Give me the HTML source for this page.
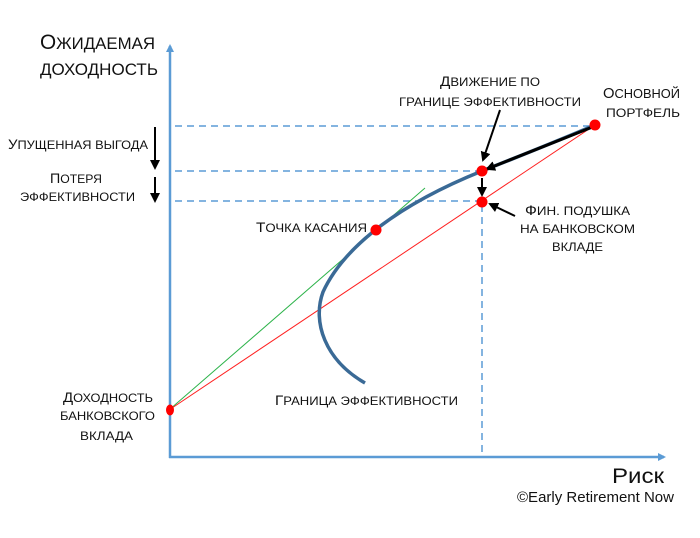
<!DOCTYPE html>
<html><head><meta charset="utf-8"><style>
html,body{margin:0;padding:0;background:#fff;}
svg text{font-family:"Liberation Sans","DejaVu Sans",sans-serif;fill:#111;}
.u{text-transform:uppercase;}
</style></head><body>
<svg width="700" height="533" viewBox="0 0 700 533" xmlns="http://www.w3.org/2000/svg">
<defs>
<marker id="ab" markerWidth="8" markerHeight="8" refX="6" refY="4" orient="auto" markerUnits="userSpaceOnUse"><path d="M0,0 L8,4 L0,8 Z" fill="#5b9bd5"/></marker>
<marker id="ak" markerWidth="10" markerHeight="10" refX="8" refY="5" orient="auto" markerUnits="userSpaceOnUse"><path d="M0,0 L10,5 L0,10 Z" fill="#000"/></marker>
</defs>
<line x1="170" y1="458" x2="170" y2="46" stroke="#5b9bd5" stroke-width="2.5" marker-end="url(#ab)"/>
<line x1="169" y1="457" x2="664" y2="457" stroke="#5b9bd5" stroke-width="2.5" marker-end="url(#ab)"/>
<g stroke="#5b9bd5" stroke-width="1.5" stroke-dasharray="7,5">
<line x1="175" y1="126" x2="595" y2="126"/>
<line x1="175" y1="171" x2="482" y2="171"/>
<line x1="175" y1="201" x2="482" y2="201"/>
<line x1="482" y1="205" x2="482" y2="456"/>
</g>
<line x1="169" y1="410" x2="425" y2="188" stroke="#2db34a" stroke-width="1"/>
<line x1="169" y1="410" x2="595" y2="125" stroke="#ff2020" stroke-width="1"/>
<path d="M365,383 C325,360 312,322 323,292 C340,255 385,210 482,171 C520,156 560,140 595,125" fill="none" stroke="#3a6a96" stroke-width="3.5"/>
<line x1="595" y1="126" x2="487" y2="169" stroke="#000" stroke-width="3" marker-end="url(#ak)"/>
<line x1="500" y1="110" x2="483" y2="160" stroke="#000" stroke-width="2" marker-end="url(#ak)"/>
<line x1="482" y1="178" x2="482" y2="195" stroke="#000" stroke-width="2" marker-end="url(#ak)"/>
<line x1="515" y1="216" x2="490" y2="204" stroke="#000" stroke-width="2" marker-end="url(#ak)"/>
<line x1="155" y1="127" x2="155" y2="168" stroke="#000" stroke-width="2" marker-end="url(#ak)"/>
<line x1="155" y1="177" x2="155" y2="201" stroke="#000" stroke-width="2" marker-end="url(#ak)"/>
<g fill="#ff0000">
<circle cx="595" cy="125" r="5.5"/>
<circle cx="482" cy="171" r="5.5"/>
<circle cx="482" cy="202" r="5.5"/>
<circle cx="376" cy="230" r="5.5"/>
<ellipse cx="170" cy="410" rx="4" ry="5.5"/>
</g>
<g class="u">
<text x="40" y="49" font-size="17" textLength="115" lengthAdjust="spacingAndGlyphs"><tspan font-size="21">О</tspan>жидаемая</text>
<text x="40" y="75" font-size="17" textLength="118" lengthAdjust="spacingAndGlyphs">доходность</text>
<text x="8" y="149" font-size="12" textLength="140" lengthAdjust="spacingAndGlyphs"><tspan font-size="14">У</tspan>пущенная выгода</text>
<text x="50" y="183" font-size="12" textLength="52" lengthAdjust="spacingAndGlyphs"><tspan font-size="14">П</tspan>отеря</text>
<text x="20" y="201" font-size="12" textLength="115" lengthAdjust="spacingAndGlyphs">эффективности</text>
<text x="256" y="232" font-size="12" textLength="111" lengthAdjust="spacingAndGlyphs"><tspan font-size="14">Т</tspan>очка касания</text>
<text x="440" y="86" font-size="12" textLength="100" lengthAdjust="spacingAndGlyphs"><tspan font-size="14">Д</tspan>вижение по</text>
<text x="399" y="106" font-size="12" textLength="182" lengthAdjust="spacingAndGlyphs">границе эффективности</text>
<text x="603" y="98" font-size="13" textLength="77" lengthAdjust="spacingAndGlyphs"><tspan font-size="15">О</tspan>сновной</text>
<text x="606" y="117" font-size="12" textLength="74" lengthAdjust="spacingAndGlyphs">портфель</text>
<text x="525" y="215" font-size="12" textLength="105" lengthAdjust="spacingAndGlyphs"><tspan font-size="14">Ф</tspan>ин. подушка</text>
<text x="520" y="233" font-size="12" textLength="115" lengthAdjust="spacingAndGlyphs">на банковском</text>
<text x="552" y="251" font-size="12" textLength="51" lengthAdjust="spacingAndGlyphs">вкладе</text>
<text x="275" y="405" font-size="12" textLength="183" lengthAdjust="spacingAndGlyphs"><tspan font-size="14">Г</tspan>раница эффективности</text>
<text x="63" y="402" font-size="12" textLength="90" lengthAdjust="spacingAndGlyphs"><tspan font-size="14">Д</tspan>оходность</text>
<text x="60" y="420" font-size="12" textLength="95" lengthAdjust="spacingAndGlyphs">банковского</text>
<text x="80" y="440" font-size="12" textLength="53" lengthAdjust="spacingAndGlyphs">вклада</text>
</g>
<text x="612" y="483" font-size="21" textLength="52" lengthAdjust="spacingAndGlyphs">Риск</text>
<text x="517" y="502" font-size="15" textLength="157" lengthAdjust="spacingAndGlyphs">©Early Retirement Now</text>
</svg>
</body></html>
